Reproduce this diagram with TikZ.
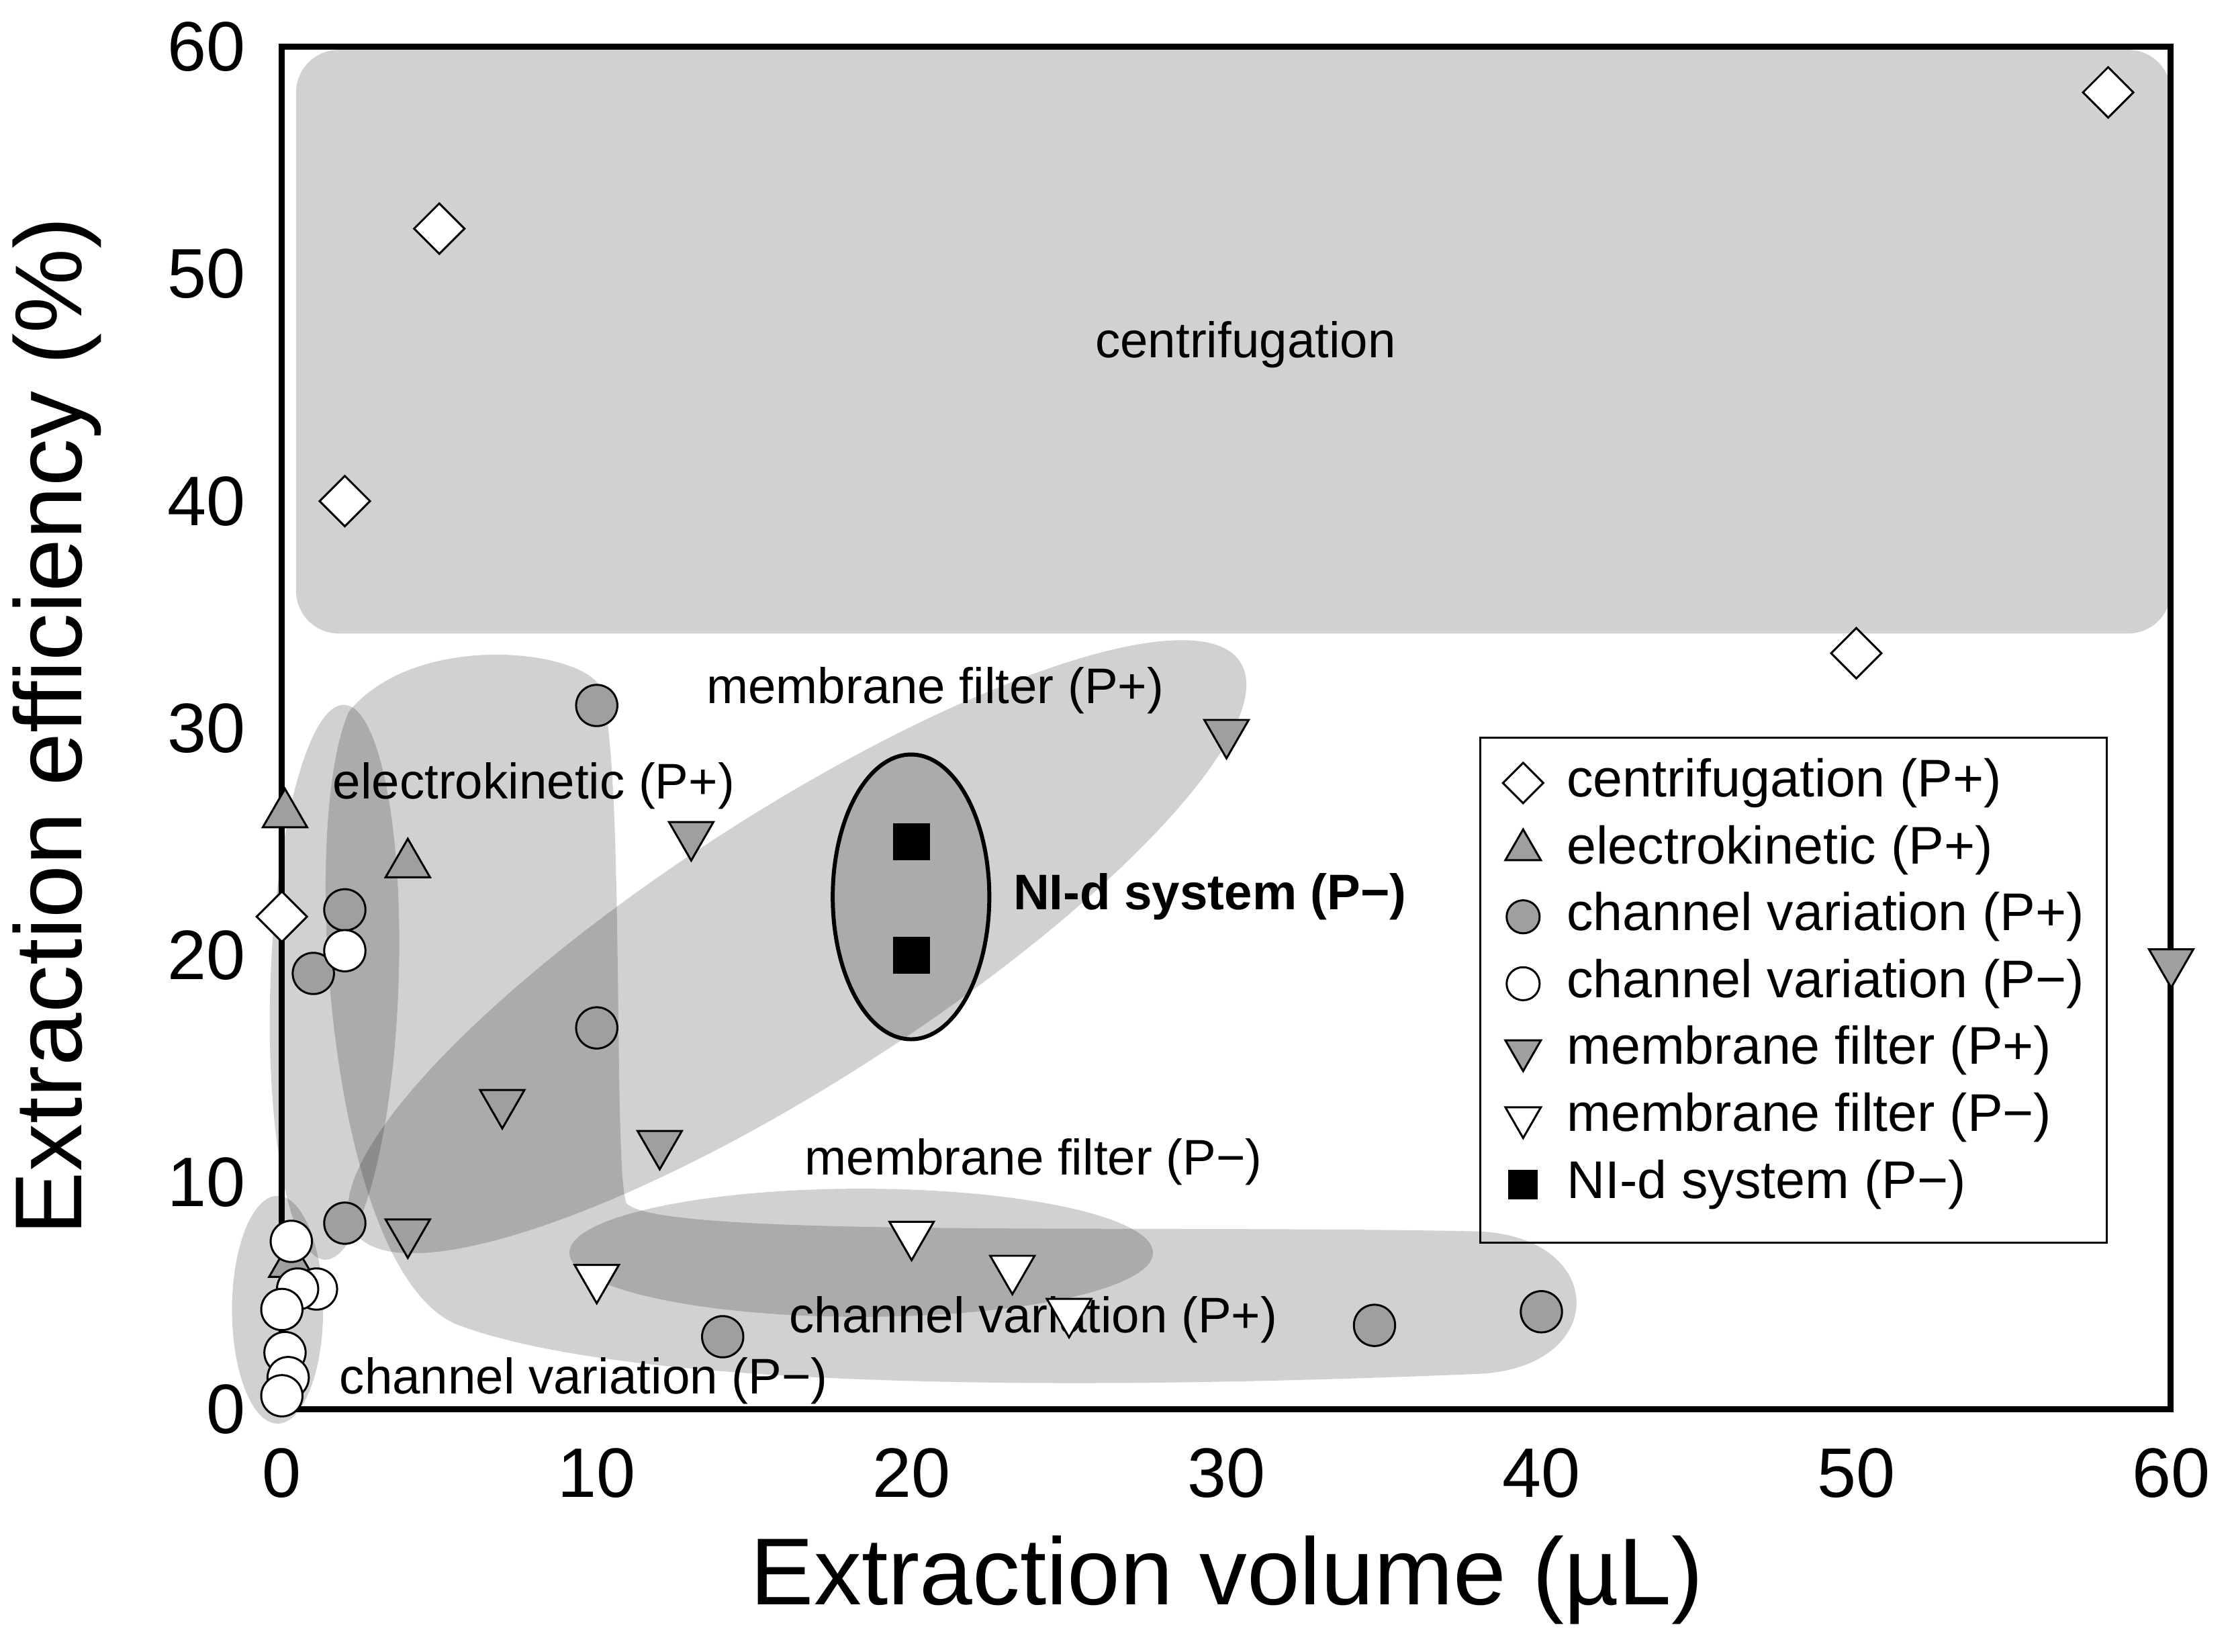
\documentclass[tikz,border=0pt]{standalone}
\usepackage{fontspec}
\setmainfont{Liberation Sans}
\usetikzlibrary{shapes.geometric}
\tikzset{
  region/.style={fill=black, fill opacity=0.18, draw=none},
  dia/.style={diamond, draw, fill=white, inner sep=0pt, minimum size=0.36cm},
  cp/.style={circle, draw, fill=gray!75, inner sep=0pt, minimum size=0.29cm},
  cw/.style={circle, draw, fill=white, inner sep=0pt, minimum size=0.29cm},
  tu/.style={regular polygon, regular polygon sides=3, draw, fill=gray!75, inner sep=0pt, minimum size=0.36cm},
  td/.style={tu, shape border rotate=180},
  tdw/.style={td, fill=white},
  sq/.style={rectangle, fill=black, inner sep=0pt, minimum size=0.26cm},
  lab/.style={font=\fontsize{10}{12}\selectfont, inner sep=1pt},
}
\begin{document}
\begin{tikzpicture}
	\useasboundingbox (0,0) rectangle (15.68,11.6);
	
	% shaded regions
	\fill[region, rounded corners=0.3cm] (2.08,11.25) rectangle (15.25,7.15);
	\fill[region, rotate around={-2:(2.35,4.7)}] (2.35,4.7) ellipse (0.45cm and 1.95cm);
	\fill[region, rotate around={32.7:(5.6,4.95)}] (5.6,4.95) ellipse (3.7cm and 0.95cm);
	\fill[region] (6.05,2.8) ellipse (2.05cm and 0.45cm);
	\fill[region] (1.95,2.4) ellipse (0.32cm and 0.8cm);
	\fill[region] (2.45,6.6) .. controls (2.9,7.15) and (4.0,7.05) .. (4.2,6.8)
	  .. controls (4.4,6.5) and (4.3,3.4) .. (4.4,3.15)
	  .. controls (4.6,2.9) and (8.0,3.0) .. (10.4,2.95)
	  .. controls (11.3,2.9) and (11.3,2.0) .. (10.4,1.95)
	  .. controls (8.0,1.85) and (4.5,1.8) .. (3.2,2.3)
	  .. controls (2.3,2.7) and (2.1,5.8) .. (2.45,6.6) -- cycle;
	\draw[region, draw opacity=1, draw=black, thick] (6.4,5.3) ellipse (0.55cm and 1.0cm);
	
	% axes
	\draw[very thick] (1.98,1.7) rectangle (15.25,11.27);
	\foreach \i in {0,...,6} {
	  \node[font=\fontsize{14}{16}\selectfont, anchor=north] (xt\i) at ({1.98+\i*2.212},1.55) {\ifnum\i=0 0\else\i0\fi};
	  \node[font=\fontsize{14}{16}\selectfont, anchor=east] (yt\i) at (1.85,{1.7+\i*1.595}) {\ifnum\i=0 0\else\i0\fi};
	}
	\node[font=\fontsize{19}{22}\selectfont] (xlab) at (8.62,0.5) {Extraction volume (µL)};
	\node[font=\fontsize{19}{22}\selectfont, rotate=90] (ylab) at (0.4,6.5) {Extraction efficiency (\%)};
	
	% region labels
	\node[lab] (lcen) at (8.75,9.18) {centrifugation};
	\node[lab] (lmfp) at (6.57,6.75) {membrane filter (P+)};
	\node[lab] (lek) at (3.75,6.08) {electrokinetic (P+)};
	\node[lab, font=\bfseries\fontsize{10}{12}\selectfont] (lnid) at (8.5,5.3) {NI-d system (P−)};
	\node[lab] (lmfm) at (7.26,3.44) {membrane filter (P−)};
	\node[lab] (lcvp) at (7.26,2.33) {channel variation (P+)};
	\node[lab] (lcvm) at (4.1,1.9) {channel variation (P−)};
	
	% data
	\begin{scope}[shift={(1.98,1.7)}, x=0.2212cm, y=0.1595cm]
	\foreach \p in {(5,52),(2,40),(58,58),(50,33.3),(0,21.7)} \node[dia] at \p {};
	\foreach \p in {(0.1,26.2),(4,24),(0.3,6.4)} \node[tu] at \p {};
	\foreach \p in {(10,31),(2,22),(1,19.2),(10,16.8),(2,8.2),(14,3.2),(34.7,3.7),(40,4.3)} \node[cp] at \p {};
	\foreach \p in {(2,20.2),(0.3,7.4),(1.1,5.3),(0.5,5.3),(0,4.4),(0.1,2.5),(0.2,1.4),(0,0.6)} \node[cw] at \p {};
	\foreach \p in {(30,29.8),(13,25.3),(60,19.7),(7,13.5),(12,11.7),(4,7.8)} \node[td] at \p {};
	\foreach \p in {(10,5.8),(20,7.7),(23.2,6.2),(25,4.3)} \node[tdw] at \p {};
	\foreach \p in {(20,25),(20,20)} \node[sq] at \p {};
	\end{scope}
	
	% legend
	\draw (10.4,6.42) rectangle (14.8,2.87);
	\foreach \s/\t [count=\k] in {dia/centrifugation (P+), tu/electrokinetic (P+), cp/channel variation (P+), cw/channel variation (P−), td/membrane filter (P+), tdw/membrane filter (P−), sq/NI-d system (P−)} {
	  \node[\s, scale=0.8] (m\k) at (10.7,{6.1-(\k-1)*0.47}) {};
	  \node[anchor=west, font=\fontsize{10.6}{13}\selectfont, inner sep=0pt] (t\k) at (11.0,{6.1-(\k-1)*0.47}) {\t};
	}
	
\end{tikzpicture}
\end{document}
